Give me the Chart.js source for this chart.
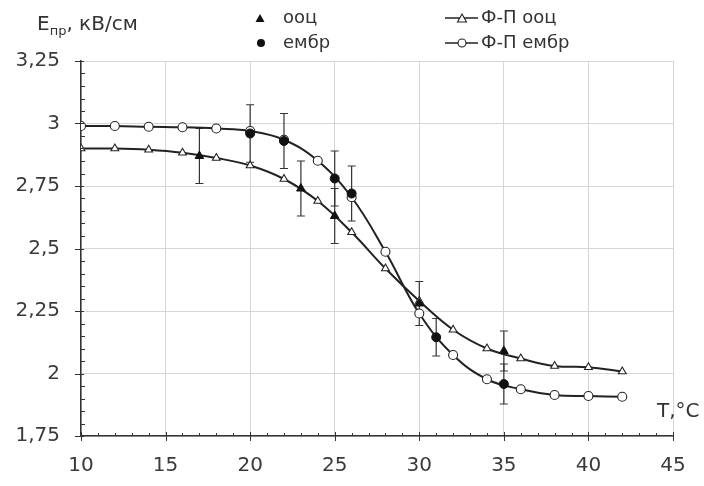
<!DOCTYPE html>
<html lang="uk">
<head>
  <meta charset="UTF-8">
  <title>Eпр від T</title>
  <script src="https://cdn.jsdelivr.net/npm/chart.js"></script>
  <style>
    body { margin: 0; background: #fff; }
    #wrap { width: 704px; height: 486px; }
  </style>
</head>
<body>
  <div id="wrap"><canvas id="chart" width="704" height="486"></canvas></div>

  <script>
    // апроксимація (Ф-П)
    const xFit = [10, 12, 14, 16, 18, 20, 22, 24, 26, 28, 30, 32, 34, 36, 38, 40, 42];
    const fitOoc = [2.90, 2.90, 2.895, 2.883, 2.862, 2.832, 2.778, 2.69, 2.565, 2.42, 2.29, 2.175, 2.10, 2.06, 2.03, 2.025, 2.008];
    const fitEmbr = [2.99, 2.99, 2.987, 2.985, 2.98, 2.97, 2.935, 2.851, 2.705, 2.487, 2.24, 2.074, 1.977, 1.937, 1.914, 1.91, 1.907];

    // експеримент
    const xOoc = [17, 23, 25, 30, 35];
    const yOoc = [2.87, 2.74, 2.63, 2.28, 2.09];
    const errOoc = [0.11, 0.11, 0.11, 0.088, 0.08];

    const xEmbr = [20, 22, 25, 26, 31, 35];
    const yEmbr = [2.96, 2.93, 2.78, 2.72, 2.145, 1.958];
    const errEmbr = [0.115, 0.11, 0.11, 0.11, 0.075, 0.08];

    const xTicks = [10, 15, 20, 25, 30, 35, 40, 45];
    const yTicks = [1.75, 2, 2.25, 2.5, 2.75, 3, 3.25];

    const FONT = '"DejaVu Sans", Verdana, sans-serif';
    const INK = '#222';

    const pts = (xs, ys) => xs.map((x, i) => ({ x: x, y: ys[i] }));
    const fmt = v => String(Math.round(v * 100) / 100).replace('.', ',');

    // вуса похибок
    const errorBars = {
      id: 'errorBars',
      beforeDatasetsDraw(chart) {
        const ctx = chart.ctx, xs = chart.scales.x, ys = chart.scales.y;
        ctx.save();
        ctx.strokeStyle = '#333';
        ctx.lineWidth = 1.2;
        const draw = (xArr, yArr, eArr) => {
          xArr.forEach((x, i) => {
            const px = xs.getPixelForValue(x);
            const top = ys.getPixelForValue(yArr[i] + eArr[i]);
            const bot = ys.getPixelForValue(yArr[i] - eArr[i]);
            ctx.beginPath();
            ctx.moveTo(px, top); ctx.lineTo(px, bot);
            ctx.moveTo(px - 4, top); ctx.lineTo(px + 4, top);
            ctx.moveTo(px - 4, bot); ctx.lineTo(px + 4, bot);
            ctx.stroke();
          });
        };
        draw(xOoc, yOoc, errOoc);
        draw(xEmbr, yEmbr, errEmbr);
        ctx.restore();
      }
    };

    // риски на осях, підписи та легенда
    const decor = {
      id: 'decor',
      afterDraw(chart) {
        const ctx = chart.ctx, xs = chart.scales.x, ys = chart.scales.y;
        const a = chart.chartArea;
        ctx.save();
        ctx.strokeStyle = '#333';
        ctx.lineWidth = 1;
        ctx.beginPath();
        for (let v = 10; v <= 45; v += 1) {
          const px = Math.round(xs.getPixelForValue(v)) + 0.5;
          const major = v % 5 === 0;
          ctx.moveTo(px, a.bottom + (major ? 5 : 0));
          ctx.lineTo(px, a.bottom - (major ? 4 : 3));
        }
        for (let k = 0; k <= 30; k++) {
          const v = 1.75 + k * 0.05;
          const py = Math.round(ys.getPixelForValue(v)) + 0.5;
          const major = k % 5 === 0;
          ctx.moveTo(a.left - (major ? 6 : 0), py);
          ctx.lineTo(a.left + (major ? 3 : 4), py);
        }
        ctx.stroke();

        // назва осі Y
        ctx.fillStyle = '#333';
        ctx.textBaseline = 'alphabetic';
        ctx.textAlign = 'left';
        ctx.font = '20px ' + FONT;
        ctx.fillText('E', 37, 30);
        let x = 37 + ctx.measureText('E').width;
        ctx.font = '13px ' + FONT;
        ctx.fillText('пр', x, 35);
        x += ctx.measureText('пр').width;
        ctx.font = '20px ' + FONT;
        ctx.fillText(', кВ/см', x, 30);

        // назва осі X
        ctx.fillText('T,°C', 657, 417);

        // легенда
        ctx.font = '18px ' + FONT;
        ctx.textBaseline = 'middle';
        ctx.fillStyle = '#111';
        ctx.beginPath();
        ctx.moveTo(260, 14); ctx.lineTo(264.5, 22); ctx.lineTo(255.5, 22); ctx.closePath();
        ctx.fill();
        ctx.beginPath();
        ctx.arc(261, 43, 4, 0, Math.PI * 2);
        ctx.fill();
        ctx.fillStyle = '#333';
        ctx.fillText('ооц', 283, 18);
        ctx.fillText('ембр', 283, 43);

        ctx.strokeStyle = INK;
        ctx.lineWidth = 1.5;
        ctx.beginPath();
        ctx.moveTo(445, 18); ctx.lineTo(478, 18);
        ctx.moveTo(445, 43); ctx.lineTo(478, 43);
        ctx.stroke();
        ctx.fillStyle = '#fff';
        ctx.lineWidth = 1.1;
        ctx.beginPath();
        ctx.moveTo(462, 14); ctx.lineTo(466.5, 22); ctx.lineTo(457.5, 22); ctx.closePath();
        ctx.fill(); ctx.stroke();
        ctx.beginPath();
        ctx.arc(462, 43, 4, 0, Math.PI * 2);
        ctx.fill(); ctx.stroke();
        ctx.fillStyle = '#333';
        ctx.fillText('Ф-П ооц', 481, 18);
        ctx.fillText('Ф-П ембр', 481, 43);
        ctx.restore();
      }
    };

    const openPoint = {
      pointBackgroundColor: '#fff',
      pointBorderColor: INK,
      pointBorderWidth: 1.1,
      pointRadius: 4.5,
      borderColor: INK,
      borderWidth: 2,
      showLine: true,
      tension: 0.4
    };

    new Chart(document.getElementById('chart'), {
      type: 'scatter',
      data: {
        datasets: [
          { label: 'ооц', data: pts(xOoc, yOoc), pointStyle: 'triangle', pointRadius: 5,
            backgroundColor: '#111', borderColor: '#111', showLine: false },
          { label: 'ембр', data: pts(xEmbr, yEmbr), pointStyle: 'circle', pointRadius: 4.5,
            backgroundColor: '#111', borderColor: '#111', showLine: false },
          Object.assign({ label: 'Ф-П ооц', data: pts(xFit, fitOoc), pointStyle: 'triangle' }, openPoint),
          Object.assign({ label: 'Ф-П ембр', data: pts(xFit, fitEmbr), pointStyle: 'circle' }, openPoint)
        ]
      },
      options: {
        responsive: false,
        animation: false,
        layout: { padding: { top: 61, right: 31, left: 0, bottom: 0 } },
        plugins: { legend: { display: false }, tooltip: { enabled: false } },
        scales: {
          x: {
            type: 'linear', min: 10, max: 45,
            afterBuildTicks: s => { s.ticks = xTicks.map(v => ({ value: v })); },
            afterFit: s => { s.height = 50; },
            grid: { color: '#d6d6d6', drawTicks: false },
            border: { color: '#333', width: 1.5 },
            ticks: { padding: 18, color: '#3a3a3a', font: { family: FONT, size: 20 }, callback: v => fmt(v) }
          },
          y: {
            type: 'linear', min: 1.75, max: 3.25,
            afterBuildTicks: s => { s.ticks = yTicks.map(v => ({ value: v })); },
            afterFit: s => { s.width = 81; },
            grid: { color: '#d6d6d6', drawTicks: false },
            border: { color: '#333', width: 1.5 },
            ticks: { padding: 21, color: '#3a3a3a', font: { family: FONT, size: 20 }, callback: v => fmt(v) }
          }
        }
      },
      plugins: [errorBars, decor]
    });
  </script>
</body>
</html>
